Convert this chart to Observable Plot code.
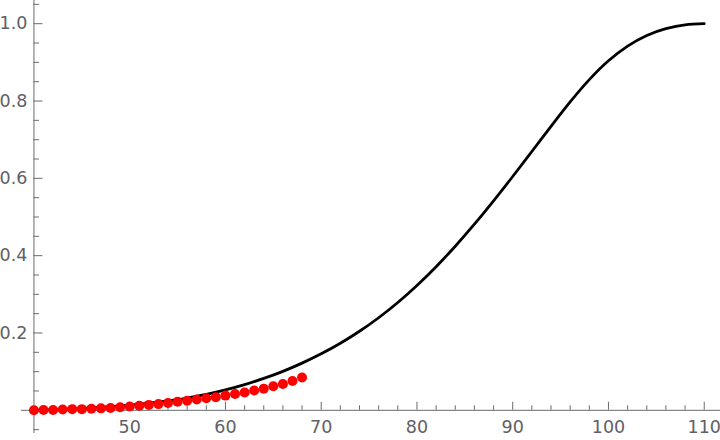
<!DOCTYPE html>
<html><head><meta charset="utf-8">
<script src="https://cdn.jsdelivr.net/npm/d3@7"></script>
<script src="https://cdn.jsdelivr.net/npm/@observablehq/plot@0.6"></script>
<style>body{margin:0;background:#fff;} #chart svg{display:block;}</style>
</head><body><div id="chart"></div>
<script>
// Black curve
const curveX = [40,42,44,46,48,50,52,54,56,58,60,62,64,66,68,70,72,74,76,78,80,82,84,86,88,90,92,94,96,98,100,102,104,106,108,110];
const curveY = [0.000,0.002,0.004,0.0064,0.0094,0.0134,0.0184,0.0244,0.0318,0.0412,0.0528,0.0664,0.0824,0.1008,0.122,0.146,0.1734,0.2044,0.2394,0.2788,0.3228,0.3714,0.4244,0.4814,0.5418,0.6048,0.6694,0.7346,0.7978,0.8554,0.904,0.942,0.9696,0.9872,0.9972,1.000];
// Red points
const pointX = [40,41,42,43,44,45,46,47,48,49,50,51,52,53,54,55,56,57,58,59,60,61,62,63,64,65,66,67,68];
const pointY = [0.000,0.001,0.001,0.002,0.003,0.003,0.004,0.005,0.006,0.008,0.010,0.012,0.014,0.016,0.019,0.022,0.025,0.028,0.031,0.034,0.038,0.042,0.046,0.051,0.056,0.062,0.068,0.076,0.085];
// Ticks
const xMajorTicks = [50,60,70,80,90,100,110];
const xTickLabels = ["50","60","70","80","90","100","110"];
const xMinorTicks = [42,44,46,48,52,54,56,58,62,64,66,68,72,74,76,78,82,84,86,88,92,94,96,98,102,104,106,108];
const yMajorTicks = [0.2,0.4,0.6,0.8,1.0];
const yTickLabels = ["0.2","0.4","0.6","0.8","1.0"];
const yMinorTicks = [-0.05,0.05,0.1,0.15,0.25,0.3,0.35,0.45,0.5,0.55,0.65,0.7,0.75,0.85,0.9,0.95,1.05];

const curve = curveX.map((x,i)=>({x, y: curveY[i]}));
const pts = pointX.map((x,i)=>({x, y: pointY[i]}));
const xLab = xMajorTicks.map((v,i)=>({v, t: xTickLabels[i]}));
const yLab = yMajorTicks.map((v,i)=>({v, t: yTickLabels[i]}));

const axisColor = "#6b6b6b";
const labelColor = "#606066";
const font = "'DejaVu Sans', sans-serif";

const chart = Plot.plot({
  width: 720, height: 440,
  marginLeft: 21, marginRight: 0, marginTop: 0, marginBottom: 7,
  style: {fontFamily: font, background: "#fff"},
  x: {domain: [38.7, 111.7], axis: null},
  y: {domain: [-0.06, 1.06], axis: null},
  marks: [
    Plot.ruleY([0], {stroke: axisColor, strokeWidth: 1}),
    Plot.ruleX([40], {stroke: axisColor, strokeWidth: 1}),
    Plot.ruleX(xMajorTicks, {x: d=>d, y1: 0, y2: 0, insetBottom: 8, stroke: axisColor}),
    Plot.ruleX(xMinorTicks, {x: d=>d, y1: 0, y2: 0, insetBottom: 4.5, stroke: axisColor}),
    Plot.ruleY(yMajorTicks, {y: d=>d, x1: 40, x2: 40, insetRight: -9, stroke: axisColor}),
    Plot.ruleY(yMinorTicks, {y: d=>d, x1: 40, x2: 40, insetRight: -5.5, stroke: axisColor}),
    Plot.text(xLab, {x: "v", y: 0, text: "t", dy: 17, fontSize: 17.5, fill: labelColor, textAnchor: "middle"}),
    Plot.text(yLab, {x: 40, y: "v", text: "t", dx: -6.5, fontSize: 17.5, fill: labelColor, textAnchor: "end"}),
    Plot.line(curve, {x: "x", y: "y", stroke: "#000", strokeWidth: 2.8, curve: "monotone-x"}),
    Plot.dot(pts, {x: "x", y: "y", r: 5, fill: "#ff0000", stroke: "none"})
  ]
});
document.getElementById("chart").appendChild(chart);
</script>
</body></html>
